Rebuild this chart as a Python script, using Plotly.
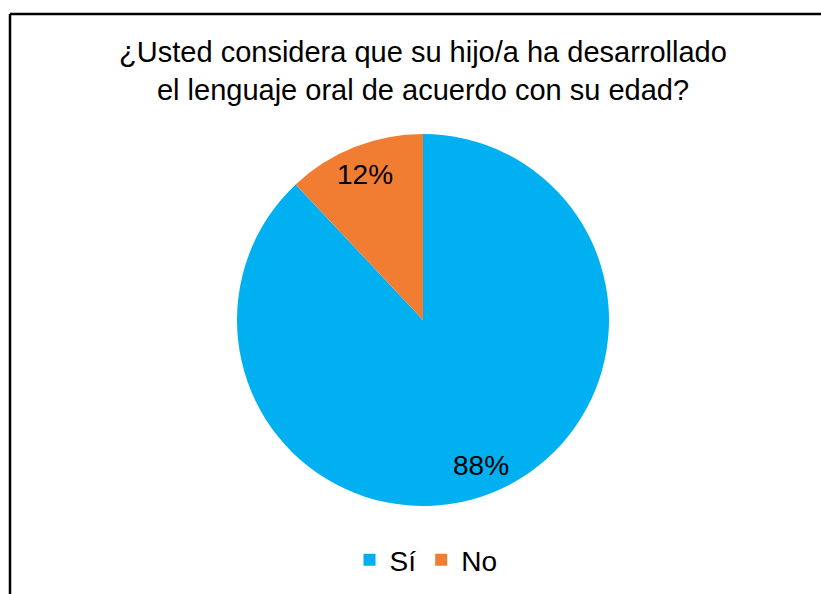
import math
import plotly.graph_objects as go

categories = ["Sí", "No"]
values = [88, 12]
colors = ["#00B0F0", "#F07D31"]
title_text = "¿Usted considera que su hijo/a ha desarrollado<br>el lenguaje oral de acuerdo con su edad?"

W, H = 830, 600  # slightly larger than the window so the open right/bottom edges fall outside
font = "Liberation Sans, Arial, sans-serif"


def px(x):
    return x / W


def py(y):
    return 1 - y / H


# pie geometry in page pixels
cx, cy, r = 423, 320, 186

fig = go.Figure(go.Pie(
    labels=categories, values=values, sort=False, direction="clockwise", rotation=0,
    marker=dict(colors=colors, line=dict(width=0)),
    textinfo="none",
    domain=dict(x=[px(cx - r), px(cx + r)], y=[py(cy + r), py(cy - r)]),
    showlegend=True,
))

# data labels placed along each slice's mid angle (computed from the values)
total = sum(values)
annotations = []
start = 0.0
for v in values:
    mid = (start + v / 2) / total * 2 * math.pi
    start += v
    lx = cx + 0.84 * r * math.sin(mid)
    ly = cy - 0.84 * r * math.cos(mid)
    annotations.append(dict(
        text=f"{round(100 * v / total)}%", x=px(lx), y=py(ly), xref="paper", yref="paper",
        xanchor="center", yanchor="middle", showarrow=False,
        font=dict(family=font, size=28, color="#000000"),
    ))

fig.update_layout(
    width=W, height=H,
    margin=dict(l=0, r=0, t=0, b=0),
    paper_bgcolor="white",
    title=dict(text=title_text, x=px(423), xanchor="center", y=py(62), yanchor="middle",
               font=dict(family=font, size=29, color="#000000")),
    legend=dict(orientation="h", x=px(426), xanchor="center", y=py(560), yanchor="middle",
                font=dict(family=font, size=28, color="#000000"), itemwidth=30),
    annotations=annotations,
    shapes=[
        dict(type="line", xref="paper", yref="paper", x0=px(10), x1=1, y0=py(14), y1=py(14),
             line=dict(color="#000000", width=2.5)),
        dict(type="line", xref="paper", yref="paper", x0=px(10), x1=px(10), y0=py(14), y1=0,
             line=dict(color="#000000", width=2.5)),
    ],
)

fig.write_html(
    "out.html",
    config={"displayModeBar": False},
    post_script="document.body.style.margin='0';document.body.style.overflow='hidden';",
)
